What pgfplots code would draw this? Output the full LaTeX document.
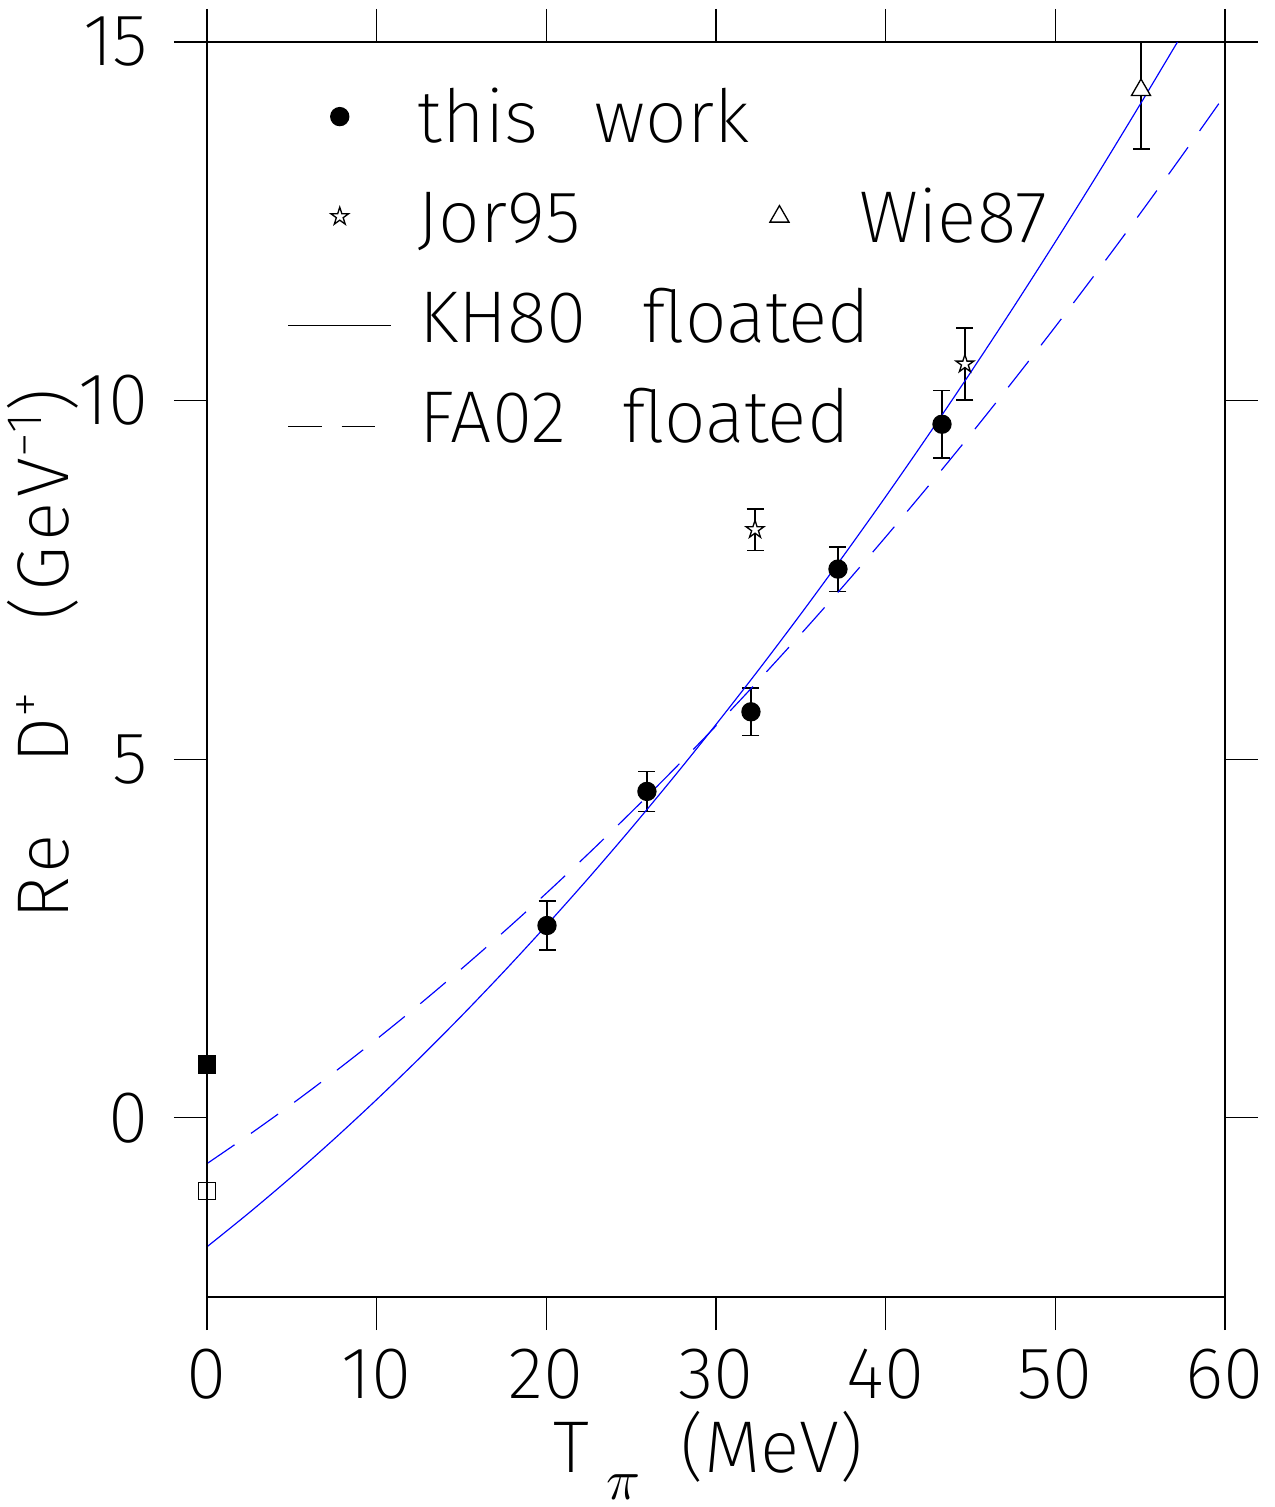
\documentclass[border=0pt]{standalone}
\usepackage{fontspec}
\setmainfont{Fira Sans ExtraLight}[WordSpace=2.7]
\usepackage{pgfplots}
\pgfplotsset{compat=1.18}

% open five-pointed star
\pgfdeclareplotmark{ostar}{%
  \pgfpathmoveto{\pgfpointpolar{90}{\pgfplotmarksize}}%
  \pgfpathlineto{\pgfpointpolar{126}{0.382\pgfplotmarksize}}%
  \pgfpathlineto{\pgfpointpolar{162}{\pgfplotmarksize}}%
  \pgfpathlineto{\pgfpointpolar{198}{0.382\pgfplotmarksize}}%
  \pgfpathlineto{\pgfpointpolar{234}{\pgfplotmarksize}}%
  \pgfpathlineto{\pgfpointpolar{270}{0.382\pgfplotmarksize}}%
  \pgfpathlineto{\pgfpointpolar{306}{\pgfplotmarksize}}%
  \pgfpathlineto{\pgfpointpolar{342}{0.382\pgfplotmarksize}}%
  \pgfpathlineto{\pgfpointpolar{18}{\pgfplotmarksize}}%
  \pgfpathlineto{\pgfpointpolar{54}{0.382\pgfplotmarksize}}%
  \pgfpathclose
  \pgfusepathqfillstroke
}

\newcommand\bigtext{\fontsize{22}{22}\selectfont}

\begin{document}
\begin{tikzpicture}
\begin{axis}[
  name=ax,
  scale only axis,
  width=305.4pt, height=376.5pt,
  xmin=0, xmax=60, ymin=-2.5, ymax=15,
  xtick={0,10,...,60}, ytick={0,5,10,15},
  minor tick num=0,
  tick align=outside,
  major tick length=9.9pt,
  axis line style={black, line width=0.35pt},
  every tick/.style={black, line width=0.35pt},
  clip=false,
  /pgf/number format/assume math mode=true,
  ticklabel style={font=\bigtext},
  xticklabel style={inner ysep=5.4pt},
  yticklabel style={inner xsep=7.5pt},
  xlabel={T\hspace{5pt}\raisebox{-8pt}{\fontsize{16}{16}\selectfont$\pi$}\hspace{12pt}(MeV)},
  ylabel={Re D\textsuperscript{+} (GeV\raisebox{8pt}{\fontsize{15}{15}\selectfont −1})},
  xlabel style={at={(axis description cs:0.4926,-0.1402)}, anchor=base, font=\bigtext},
  ylabel style={at={(axis description cs:-0.1365,0.512)}, anchor=base,
    font=\bigtext\addfontfeature{LetterSpace=7}},
  legend columns=2,
  legend cell align=left,
  legend style={at={(axis description cs:0.0786,0.9618)}, anchor=north west,
    draw=none, fill=none, inner sep=0pt, column sep=0pt, row sep=14.4pt,
    font=\bigtext, nodes={inner sep=0pt, text height=15.6pt, text depth=0pt}},
]

% this work
\addplot[only marks, mark=*, mark size=2.7pt, black,
  legend image code/.code={\draw plot coordinates {(15.45pt,0pt)}; \path[draw=none,fill=none] (0pt,0pt) -- (38.9pt,0pt);},
  error bars/.cd, y dir=both, y explicit,
  error mark options={rotate=90, mark size=2.55pt, black}]
  coordinates {
  (20.04,2.68) +- (0,0.34)
  (25.93,4.55) +- (0,0.28)
  (32.06,5.66) +- (0,0.33)
  (37.19,7.65) +- (0,0.31)
  (43.32,9.67) +- (0,0.47)
  };
\addlegendentry{this work}
\addlegendimage{empty legend}
\addlegendentry{}

% Jor95
\addplot[only marks, mark=ostar, mark size=2.8pt, black, mark options={fill=white},
  legend image code/.code={\draw plot coordinates {(15.45pt,0pt)}; \path[draw=none,fill=none] (0pt,0pt) -- (38.9pt,0pt);},
  error bars/.cd, y dir=both, y explicit,
  error mark options={rotate=90, mark size=2.55pt, black}]
  coordinates {
  (32.30,8.20) +- (0,0.29)
  (44.67,10.51) +- (0,0.50)
  };
\addlegendentry{Jor95}

% Wie87
\addplot[only marks, mark=triangle*, mark size=3.3pt, black, mark options={fill=white},
  legend image code/.code={\draw plot coordinates {(9pt,0pt)}; \path[draw=none,fill=none] (0pt,0pt) -- (33pt,0pt);},
  error bars/.cd, y dir=both, y explicit,
  error mark options={rotate=90, mark size=2.55pt, black}]
  table[x=x, y=y, y error plus=ep, y error minus=em] {
  x y ep em
  55.05 14.33 0.67 0.82
  };
\addlegendentry{Wie87}

% threshold values
\addplot[only marks, mark=square*, mark size=2.55pt, black, forget plot]
  coordinates {(0,0.74)};
\addplot[only marks, mark=square, mark size=2.55pt, black, forget plot]
  coordinates {(0,-1.02)};

% KH80 floated
\addplot[blue, line width=0.35pt, smooth, no markers,
  legend image code/.code={\draw[black, solid, line width=0.35pt] (0pt,-2.7pt) -- (30.9pt,-2.7pt); \path[draw=none,fill=none] (0pt,0pt) -- (38.9pt,0pt);}]
  coordinates {
  (0,-1.800) (2.5,-1.322) (5,-0.821) (7.5,-0.296) (10,0.253) (12.5,0.824)
  (15,1.419) (17.5,2.038) (20,2.680) (22.5,3.345) (25,4.034) (27.5,4.747)
  (30,5.483) (32.5,6.241) (35,7.024) (37.5,7.831) (40,8.660) (42.5,9.513)
  (45,10.390) (47.5,11.289) (50,12.213) (52.5,13.159) (55,14.130) (57.2,15.000)
  };
\addlegendentry{\rlap{KH80 floated}}
\addlegendimage{empty legend}
\addlegendentry{}

% FA02 floated
\addplot[blue, line width=0.35pt, smooth, no markers, dash pattern=on 10pt off 6pt,
  legend image code/.code={\draw[black, dash pattern=on 10pt off 6pt, line width=0.35pt] (0pt,-3pt) -- (30.9pt,-3pt); \path[draw=none,fill=none] (0pt,0pt) -- (38.9pt,0pt);}]
  coordinates {
  (0,-0.640) (2.5,-0.234) (5,0.190) (7.5,0.634) (10,1.096) (12.5,1.576)
  (15,2.076) (17.5,2.594) (20,3.130) (22.5,3.686) (25,4.260) (27.5,4.853)
  (30,5.464) (32.5,6.095) (35,6.744) (37.5,7.411) (40,8.098) (42.5,8.803)
  (45,9.526) (47.5,10.269) (50,11.030) (52.5,11.810) (55,12.608) (57.5,13.426)
  (60,14.262)
  };
\addlegendentry{\rlap{FA02 floated}}
\addlegendimage{empty legend}
\addlegendentry{}

\draw[line width=0.6pt] (rel axis cs:0,0) -- (rel axis cs:0,1);
\end{axis}
\pgfresetboundingbox
\path ([shift={(-62.1pt,-63pt)}]ax.south west) rectangle ([shift={(15pt,12.6pt)}]ax.north east);
\end{tikzpicture}
\end{document}
